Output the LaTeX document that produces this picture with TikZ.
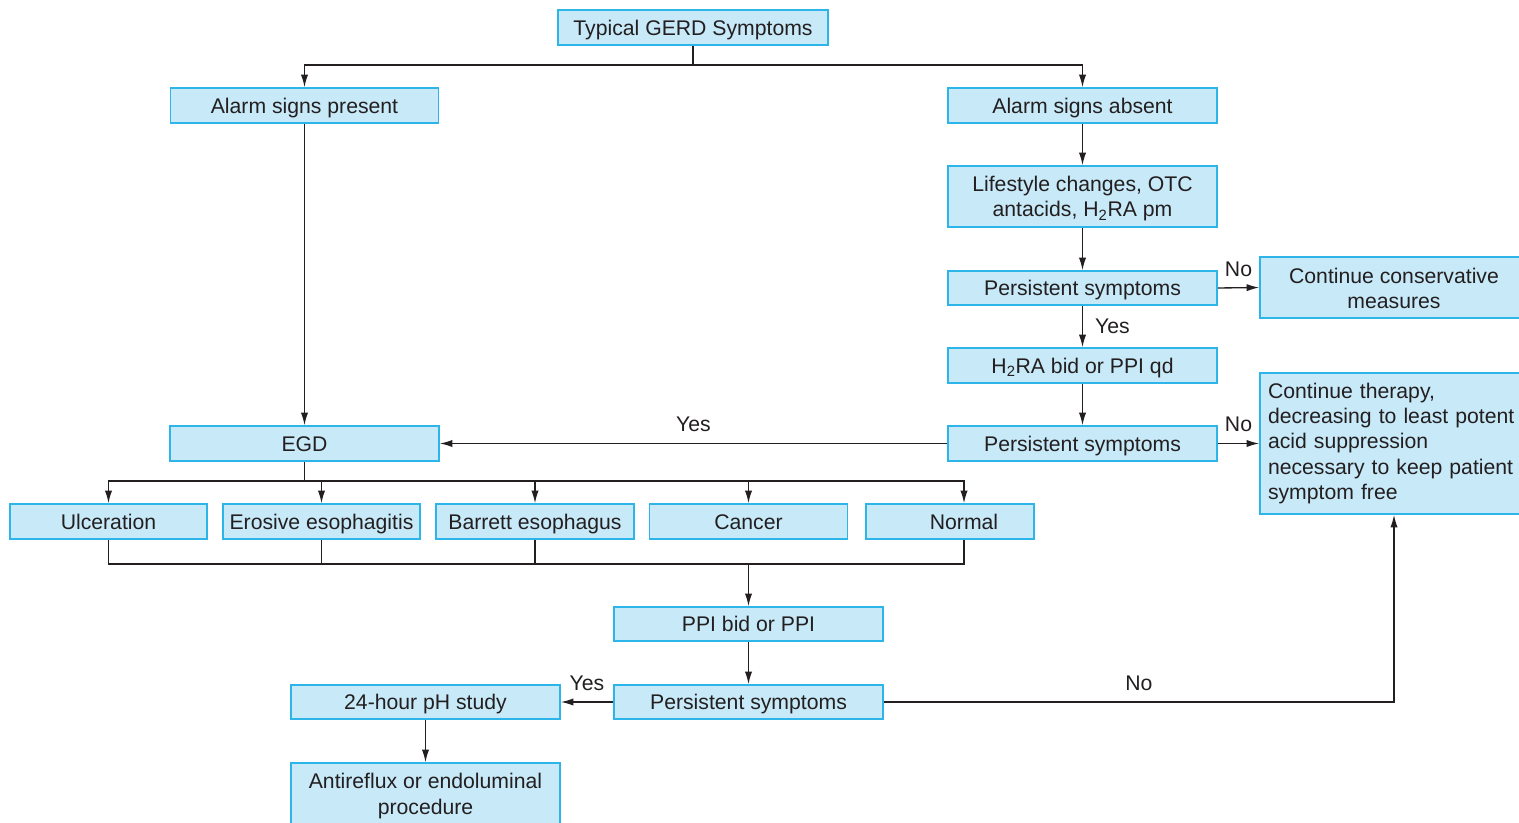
\documentclass[tikz,border=0pt]{standalone}
\usepackage{fontspec}
\setmainfont{Liberation Sans}
\usetikzlibrary{arrows.meta,positioning}
\definecolor{boxfill}{HTML}{C7E9F8}
\definecolor{boxline}{HTML}{2DB4E8}
\definecolor{ink}{HTML}{231F20}
\newcommand\topstrut[1]{\rule{0pt}{#1}}
\tikzset{
  box/.style={draw=boxline, fill=boxfill, line width=1.2pt, inner sep=0pt, align=center, text=ink,
    font=\fontsize{15.9pt}{19pt}\selectfont},
  cs/.style={execute at begin node={\rule{0pt}{16pt}}, execute at end node={\rule[-4.6pt]{0pt}{0pt}}},
  bw/.style={minimum width={#1*0.75pt}},
  bh/.style={minimum height={#1*0.75pt}},
  conn/.style={draw=ink, line width=1pt},
  arr/.style={conn, -{Latex[length=9.5pt,width=5.5pt]}},
  lbl/.style={inner sep=0pt, text=ink, font=\fontsize{15.9pt}{19pt}\selectfont}
}
\begin{document}
\begin{tikzpicture}[x=0.75pt,y=-0.75pt]
\useasboundingbox[fill=white] (0,0) rectangle (1519,823);
% nodes
\node[box,cs,bw=270,bh=35] (gerd) at (693,27.5) {Typical GERD Symptoms};
\node[box,cs,bw=268,bh=35] (present) at (304.5,105.5) {Alarm signs present};
\node[box,cs,bw=269,bh=35] (absent) at (1082.5,105.5) {Alarm signs absent};
\node[box,bw=269,bh=61] (life) at (1082.5,196.5) {\topstrut{14.6pt}Lifestyle changes, OTC\\antacids, H\textsubscript{2}RA pm};
\node[box,cs,bw=269,bh=34] (ps1) at (1082.5,288) {Persistent symptoms};
\node[box,bw=268,bh=61] (cons) at (1394,287.5) {\topstrut{13.1pt}Continue conservative\\measures};
\node[box,cs,bw=269,bh=35] (h2ra) at (1082.5,365.5) {H\textsubscript{2}RA bid or PPI qd};
\node[box,cs,bw=269,bh=35] (ps2) at (1082.5,443.5) {Persistent symptoms};
\node[box,bw=268,bh=141,text width={252*0.75pt},align=left,inner xsep={8*0.75pt}] (therapy) at (1394,443.5)
  {Continue therapy,\\decreasing to least potent\\acid suppression\\necessary to keep patient\\symptom free};
\node[box,cs,bw=269,bh=35] (egd) at (304.5,443.5) {EGD};
\node[box,cs,bw=197,bh=35] (ulc) at (108.5,521.5) {Ulceration};
\node[box,cs,bw=197,bh=35] (ero) at (321.5,521.5) {Erosive esophagitis};
\node[box,cs,bw=198,bh=35] (bar) at (535,521.5) {Barrett esophagus};
\node[box,cs,bw=198,bh=35] (can) at (748.5,521.5) {Cancer};
\node[box,cs,bw=168,bh=35] (nor) at (950,521.5) {\hspace*{21pt}Normal};
\node[box,cs,bw=269,bh=34] (ppi) at (748.5,624) {PPI bid or PPI};
\node[box,cs,bw=269,bh=34] (ps3) at (748.5,702) {Persistent symptoms};
\node[box,cs,bw=269,bh=34] (ph) at (425.5,702) {24-hour pH study};
\node[box,bw=269,bh=62] (anti) at (425.5,794) {\topstrut{14.6pt}Antireflux or endoluminal\\procedure};
% coordinates
\coordinate (split1) at (693,65);
\coordinate (split2) at (304.5,481);
\coordinate (join) at (748.5,564);
\coordinate (norin) at ([xshift=10.5pt]nor.north);
\coordinate (norout) at ([xshift=10.5pt]nor.south);
% connectors
\draw[conn] (gerd.south) -- (split1);
\draw[arr] (split1) -| (present.north);
\draw[arr] (split1) -| (absent.north);
\draw[arr] (present.south) -- (egd.north);
\draw[arr] (absent.south) -- (life.north);
\draw[arr] (life.south) -- (ps1.north);
\draw[arr] (ps1.east) -- node[lbl,above=8pt]{No} (cons.west);
\draw[arr] (ps1.south) -- node[lbl,right=9pt]{Yes} (h2ra.north);
\draw[arr] (h2ra.south) -- (ps2.north);
\draw[arr] (ps2.east) -- node[lbl,above=8pt]{No} (ps2.east -| therapy.west);
\draw[arr] (ps2.west) -- node[lbl,above=8pt]{Yes} (egd.east);
\draw[conn] (egd.south) -- (split2);
\draw[arr] (split2) -| (ulc.north);
\draw[arr] (split2) -| (ero.north);
\draw[arr] (split2) -| (bar.north);
\draw[arr] (split2) -| (can.north);
\draw[arr] (split2) -| (norin);
\draw[conn] (ulc.south) |- (join);
\draw[conn] (ero.south) |- (join);
\draw[conn] (bar.south) |- (join);
\draw[conn] (norout) |- (join);
\draw[arr] (join) -- (ppi.north);
\draw[arr] (ppi.south) -- (ps3.north);
\draw[arr] (ps3.west) -- node[lbl,above=8pt]{Yes} (ph.east);
\draw[arr] (ps3.east) -- node[lbl,above=8pt]{No} (ps3.east -| therapy.south) -- (therapy.south);
\draw[arr] (ph.south) -- (anti.north);
\end{tikzpicture}
\end{document}
